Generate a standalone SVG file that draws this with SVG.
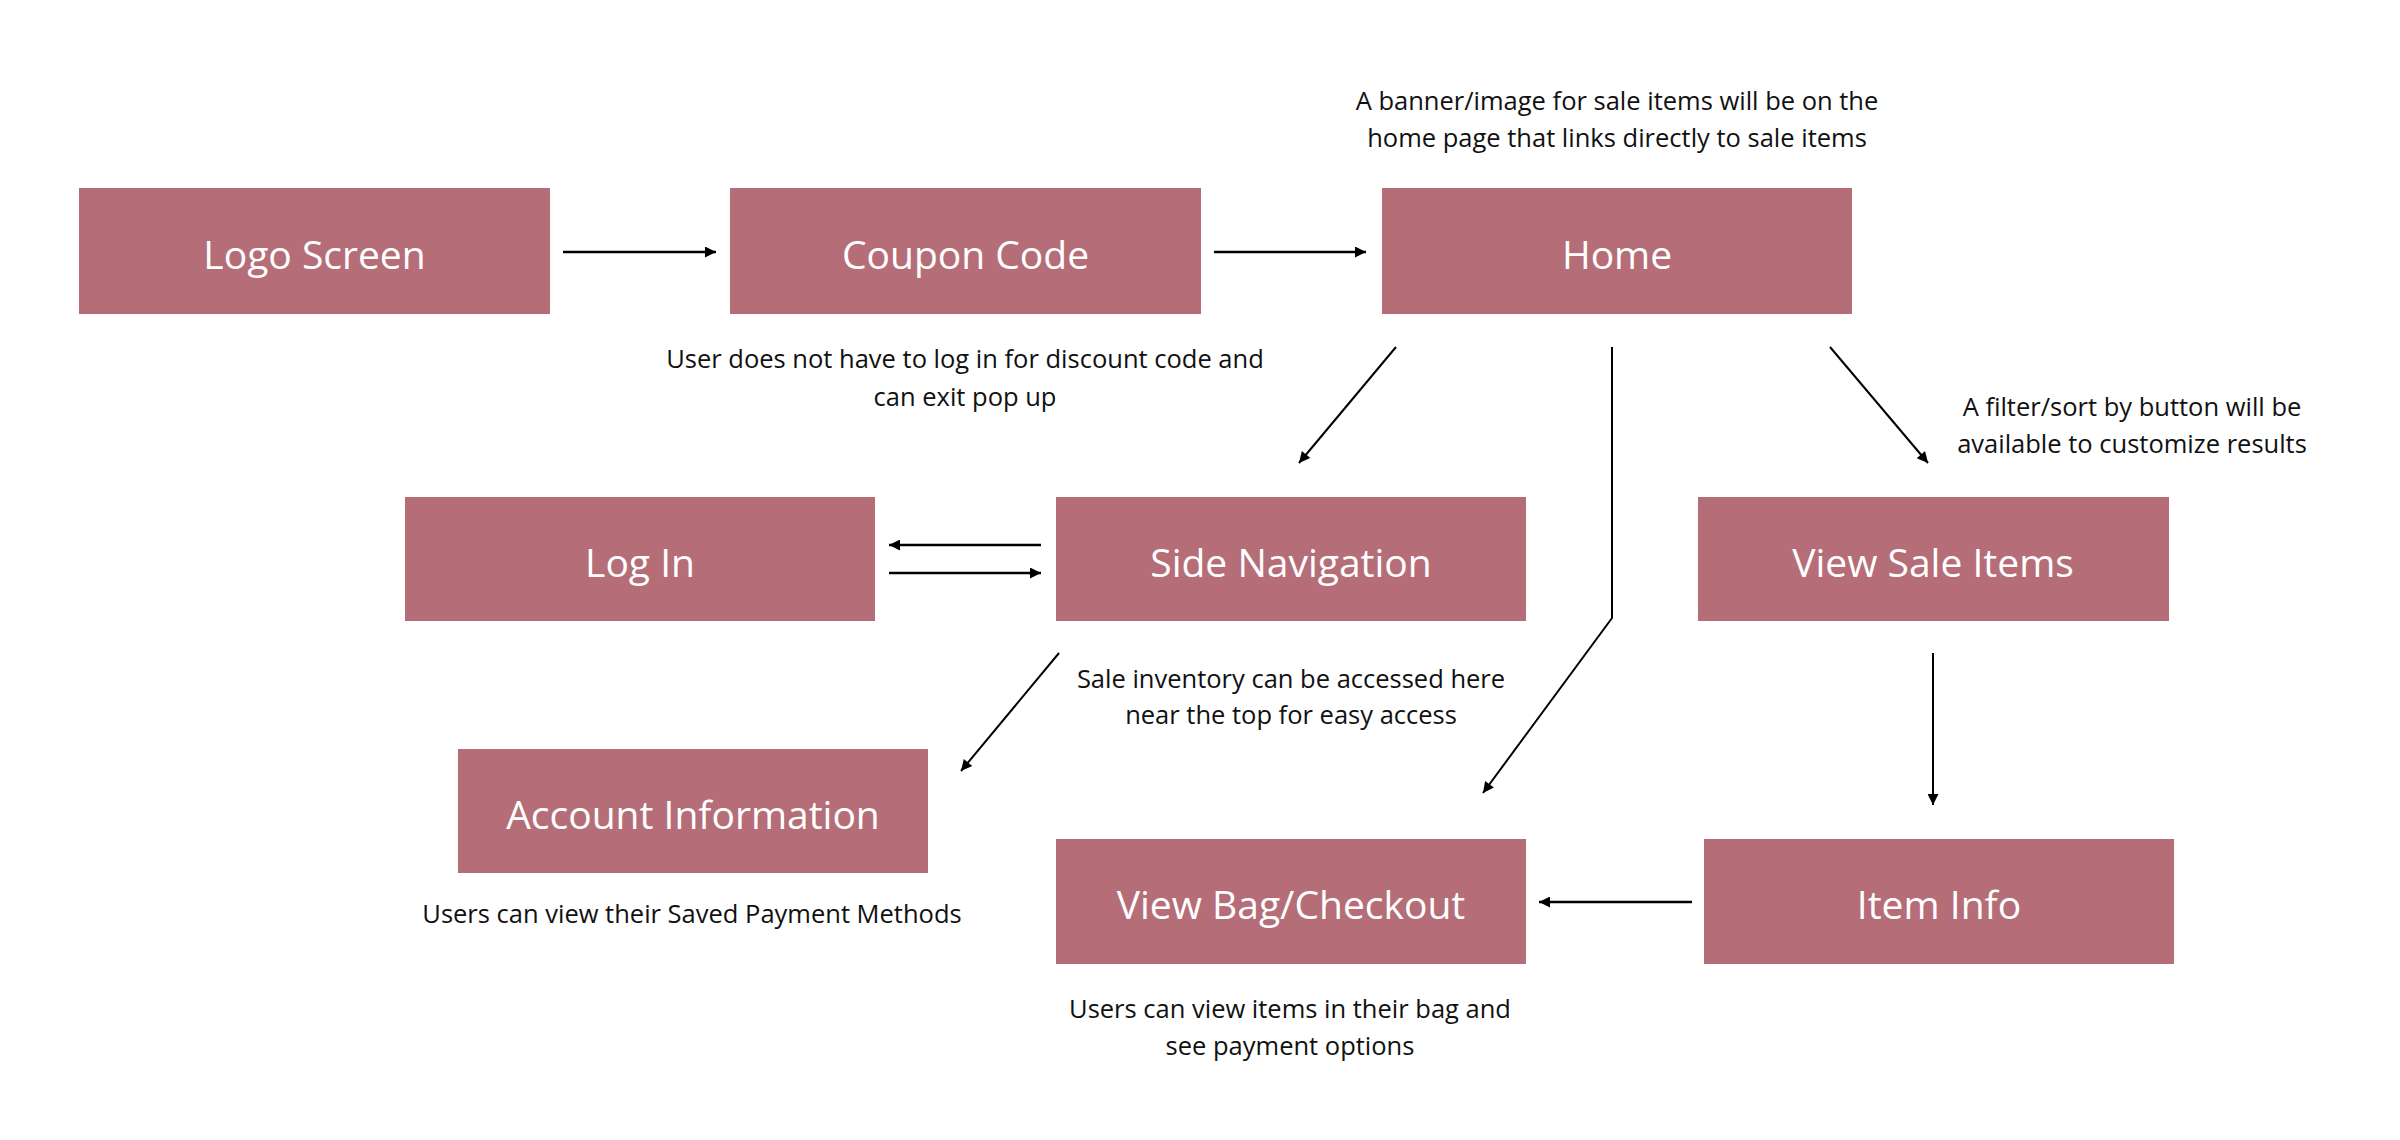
<svg xmlns="http://www.w3.org/2000/svg" width="2400" height="1140" viewBox="0 0 2400 1140">
<style>
.box{fill:#b56e77}
.lbl{font-family:"Open Sans","Liberation Sans",sans-serif;font-size:39px;fill:#ffffff;text-anchor:middle}
.note{font-family:"Open Sans","Liberation Sans",sans-serif;font-size:25.5px;fill:#111111;text-anchor:middle}
.c{fill:none;stroke:#000000;stroke-width:2}
.h{stroke-width:2.6}
</style>
<defs>
<marker id="ah" viewBox="0 0 10 10" refX="10" refY="5" markerWidth="13" markerHeight="11" markerUnits="userSpaceOnUse" orient="auto">
<path d="M0,0 L10,5 L0,10 z" fill="#000000"/>
</marker>
</defs>
<rect width="2400" height="1140" fill="#ffffff"/>
<g id="connectors">
<line class="c h" x1="563" y1="252" x2="716" y2="252" marker-end="url(#ah)"/>
<line class="c h" x1="1214" y1="252" x2="1366" y2="252" marker-end="url(#ah)"/>
<line class="c h" x1="1041" y1="545" x2="889" y2="545" marker-end="url(#ah)"/>
<line class="c h" x1="889" y1="573" x2="1041" y2="573" marker-end="url(#ah)"/>
<line class="c" x1="1396" y1="347" x2="1299" y2="463" marker-end="url(#ah)"/>
<polyline class="c" points="1612,347 1612,618 1483,793" marker-end="url(#ah)"/>
<line class="c" x1="1830" y1="347" x2="1928" y2="463" marker-end="url(#ah)"/>
<line class="c" x1="1059" y1="653" x2="961" y2="771" marker-end="url(#ah)"/>
<line class="c" x1="1933" y1="653" x2="1933" y2="805" marker-end="url(#ah)"/>
<line class="c h" x1="1692" y1="902" x2="1539" y2="902" marker-end="url(#ah)"/>
</g>
<g id="logo-screen"><rect class="box" x="79" y="188" width="471" height="126"/><text class="lbl" x="314.5" y="269">Logo Screen</text></g>
<g id="coupon-code"><rect class="box" x="730" y="188" width="471" height="126"/><text class="lbl" x="965.5" y="269">Coupon Code</text>
<text class="note" x="965" y="368">User does not have to log in for discount code and</text>
<text class="note" x="965" y="406">can exit pop up</text></g>
<g id="home"><rect class="box" x="1382" y="188" width="470" height="126"/><text class="lbl" x="1617" y="269">Home</text>
<text class="note" x="1617" y="110">A banner/image for sale items will be on the</text>
<text class="note" x="1617" y="147">home page that links directly to sale items</text></g>
<g id="log-in"><rect class="box" x="405" y="497" width="470" height="124"/><text class="lbl" x="640" y="577">Log In</text></g>
<g id="side-navigation"><rect class="box" x="1056" y="497" width="470" height="124"/><text class="lbl" x="1291" y="577">Side Navigation</text>
<text class="note" x="1291" y="688">Sale inventory can be accessed here</text>
<text class="note" x="1291" y="724">near the top for easy access</text></g>
<g id="view-sale-items"><rect class="box" x="1698" y="497" width="471" height="124"/><text class="lbl" x="1933" y="577">View Sale Items</text>
<text class="note" x="2132" y="416">A filter/sort by button will be</text>
<text class="note" x="2132" y="453">available to customize results</text></g>
<g id="account-information"><rect class="box" x="458" y="749" width="470" height="124"/><text class="lbl" x="693" y="829">Account Information</text>
<text class="note" x="692" y="923">Users can view their Saved Payment Methods</text></g>
<g id="view-bag-checkout"><rect class="box" x="1056" y="839" width="470" height="125"/><text class="lbl" x="1291" y="919">View Bag/Checkout</text>
<text class="note" x="1290" y="1018">Users can view items in their bag and</text>
<text class="note" x="1290" y="1055">see payment options</text></g>
<g id="item-info"><rect class="box" x="1704" y="839" width="470" height="125"/><text class="lbl" x="1939" y="919">Item Info</text></g>
</svg>
